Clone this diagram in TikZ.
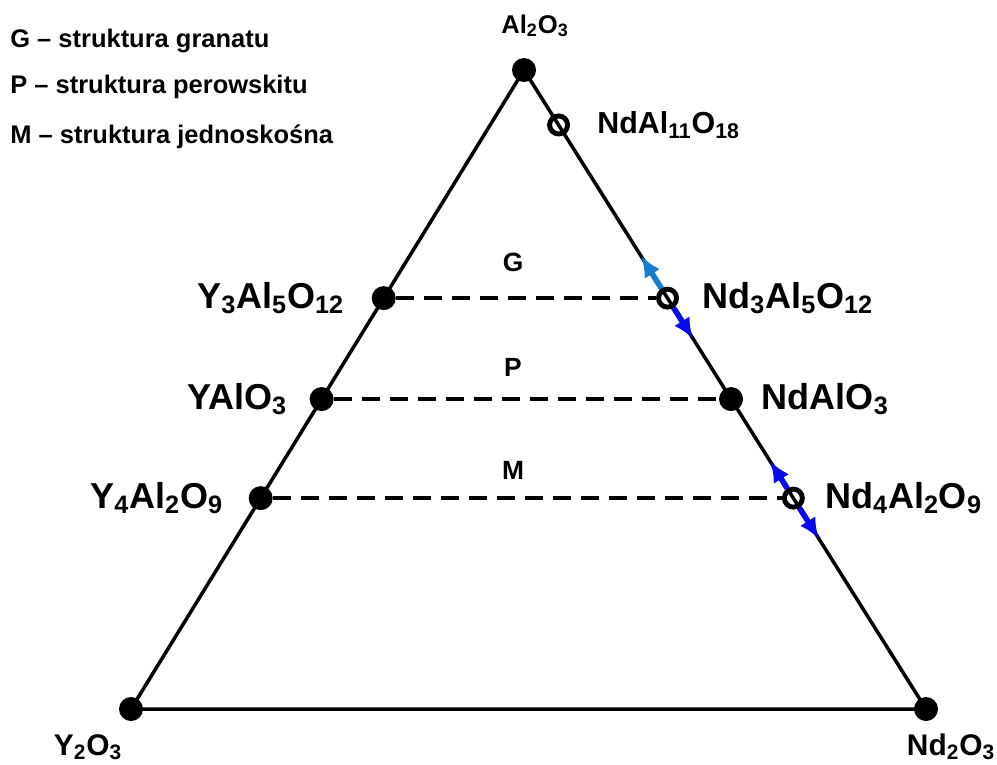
\documentclass[tikz,border=0pt]{standalone}
\usepackage{fontspec}
\setmainfont{Liberation Sans}
\usetikzlibrary{positioning, arrows.meta, calc}
\definecolor{arrowlight}{RGB}{25,125,205}
\definecolor{arrowdark}{RGB}{10,10,235}

\begin{document}
\begin{tikzpicture}[x=0.02cm, y=-0.02cm,
    dot/.style={circle, fill, inner sep=0pt, minimum size=0.48cm},
    ring/.style={circle, draw, line width=2.8pt, inner sep=0pt, minimum size=0.36cm},
    phase/.style={font=\fontsize{20.5}{24}\selectfont\bfseries, inner sep=0pt},
    corner/.style={font=\fontsize{17}{20}\selectfont\bfseries, inner sep=0pt},
    legend/.style={font=\fontsize{14.5}{17}\selectfont\bfseries, inner sep=0pt, anchor=base west},
    region/.style={font=\fontsize{15}{18}\selectfont\bfseries, inner sep=0pt},
    dashline/.style={line width=2.2pt, dash pattern=on 0.36cm off 0.2cm},
    shiftarrow/.style={line width=3.2pt, -{Latex[length=0.42cm, width=0.36cm]}}]
    \useasboundingbox (0,0) rectangle (997,764);

    % Legend
    \node[legend] (leg1) at (10,47) {G – struktura granatu};
    \node[legend] (leg2) at (10,93) {P – struktura perowskitu};
    \node[legend] (leg3) at (10,143) {M – struktura jednoskośna};

    % Corners
    \node[dot] (al) at (524,70) {};
    \node[dot] (y2) at (131,709) {};
    \node[dot] (nd2) at (926,709) {};
    \node[corner, anchor=base, font=\fontsize{14.6}{17}\selectfont\bfseries] (allbl) at (535,33) {Al\textsubscript{2}O\textsubscript{3}};
    \node[corner, anchor=base] (y2lbl) at (88,755) {Y\textsubscript{2}O\textsubscript{3}};
    \node[corner, anchor=base] (nd2lbl) at (951,755) {Nd\textsubscript{2}O\textsubscript{3}};

    % Yttrium side
    \node[dot] (yag) at ($(al)!0.357!(y2)$) {};
    \node[dot] (yap) at ($(al)!0.515!(y2)$) {};
    \node[dot] (yam) at ($(al)!0.670!(y2)$) {};
    \node[phase, left=0.54cm of yag] (yaglbl) {Y\textsubscript{3}Al\textsubscript{5}O\textsubscript{12}};
    \node[phase, left=0.44cm of yap] (yaplbl) {YAlO\textsubscript{3}};
    \node[phase, left=0.5cm of yam] (yamlbl) {Y\textsubscript{4}Al\textsubscript{2}O\textsubscript{9}};

    % Neodymium side
    \node[ring] (ndb) at ($(al)!0.086!(nd2)$) {};
    \node[ring] (ndg) at ($(al)!0.357!(nd2)$) {};
    \node[dot] (ndp) at ($(al)!0.515!(nd2)$) {};
    \node[ring] (ndm) at ($(al)!0.670!(nd2)$) {};
    \node[phase, right=0.54cm of ndb, font=\fontsize{17.3}{20}\selectfont\bfseries] (ndblbl) {NdAl\textsubscript{11}O\textsubscript{18}};
    \node[phase, right=0.46cm of ndg] (ndglbl) {Nd\textsubscript{3}Al\textsubscript{5}O\textsubscript{12}};
    \node[phase, right=0.36cm of ndp] (ndplbl) {NdAlO\textsubscript{3}};
    \node[phase, right=0.4cm of ndm] (ndmlbl) {Nd\textsubscript{4}Al\textsubscript{2}O\textsubscript{9}};

    % Structure fields
    \node[region] (gfield) at (513,262) {G};
    \node[region] (pfield) at (513,367) {P};
    \node[region] (mfield) at (513,470) {M};

    % Triangle
    \draw[line width=2pt] (al.center) -- (y2.center) -- (nd2.center) -- cycle;

    % Tie lines
    \draw[dashline] (yag) -- (ndg);
    \draw[dashline] (yap) -- (ndp);
    \draw[dashline] (yam) -- (ndm);

    % Shifts
    \coordinate (gup) at ($(al)!0.291!(nd2)$);
    \coordinate (gdn) at ($(al)!0.421!(nd2)$);
    \coordinate (mup) at ($(al)!0.612!(nd2)$);
    \coordinate (mdn) at ($(al)!0.734!(nd2)$);
    \draw[shiftarrow, arrowlight] (ndg) -- (gup);
    \draw[shiftarrow, arrowdark] (ndg) -- (gdn);
    \draw[shiftarrow, arrowdark] (ndm) -- (mup);
    \draw[shiftarrow, arrowdark] (ndm) -- (mdn);
\end{tikzpicture}
\end{document}
